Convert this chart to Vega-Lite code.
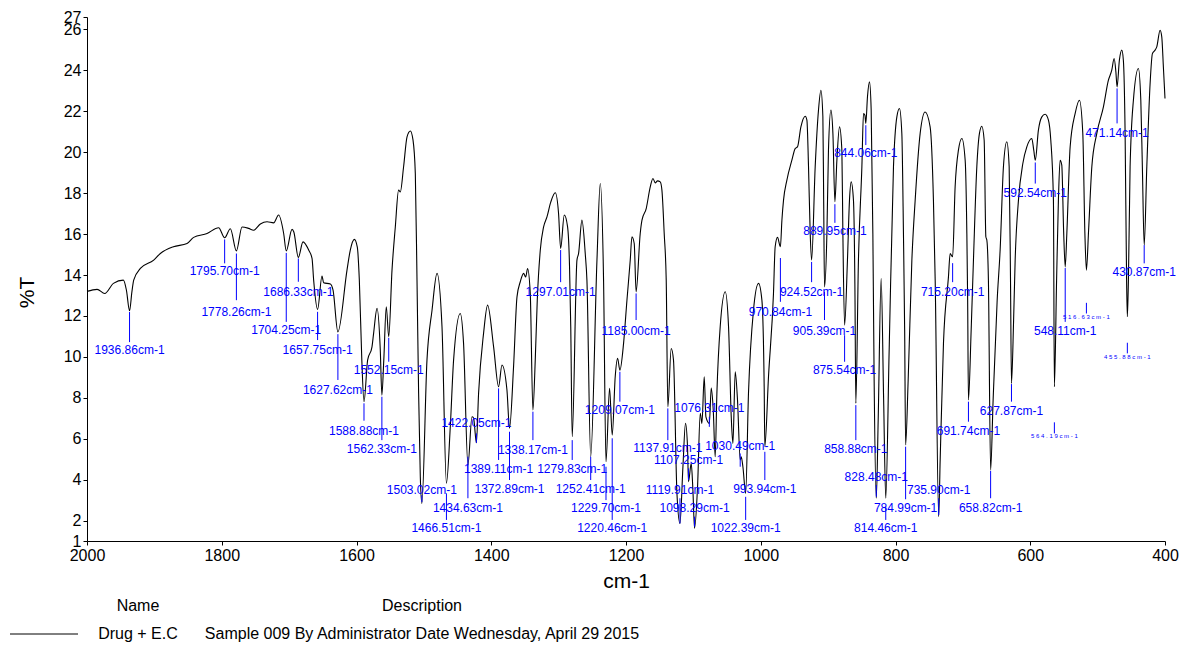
{
  "$schema": "https://vega.github.io/schema/vega-lite/v6.json",
  "width": 1078,
  "height": 524,
  "autosize": {"type": "none"},
  "padding": {"left": 87, "top": 17, "right": 17, "bottom": 104},
  "background": "white",
  "config": {
    "view": {"stroke": null},
    "font": "Liberation Sans",
    "axis": {
      "grid": false,
      "domainColor": "black",
      "tickColor": "black",
      "labelColor": "black",
      "titleColor": "black",
      "labelFont": "Liberation Sans",
      "titleFont": "Liberation Sans",
      "labelFontSize": 16,
      "titleFontSize": 21,
      "titleFontWeight": "normal",
      "tickSize": 4,
      "labelOverlap": false,
      "labelFlush": false
    }
  },
  "datasets": {
    "spectrum": [
      {"wn": 2000, "T": 13.2}, {"wn": 1985.0, "T": 13.3}, {"wn": 1973.7, "T": 13.1}, {"wn": 1960.8, "T": 13.59},
      {"wn": 1946.0, "T": 13.75}, {"wn": 1941.5, "T": 13.26}, {"wn": 1936.86, "T": 12.25}, {"wn": 1933.4, "T": 13.16},
      {"wn": 1930.7, "T": 13.75}, {"wn": 1920.8, "T": 14.32}, {"wn": 1901.0, "T": 14.73}, {"wn": 1891.1, "T": 15.05},
      {"wn": 1871.8, "T": 15.38}, {"wn": 1851.5, "T": 15.54}, {"wn": 1841.7, "T": 15.84}, {"wn": 1821.8, "T": 16.03},
      {"wn": 1804.6, "T": 16.31}, {"wn": 1795.7, "T": 15.82}, {"wn": 1787.2, "T": 16.26}, {"wn": 1778.26, "T": 15.18},
      {"wn": 1769.9, "T": 16.35}, {"wn": 1760.1, "T": 16.28}, {"wn": 1752.7, "T": 16.19}, {"wn": 1742.7, "T": 16.49},
      {"wn": 1732.8, "T": 16.6}, {"wn": 1723.0, "T": 16.55}, {"wn": 1715.6, "T": 16.93}, {"wn": 1708.1, "T": 16.03},
      {"wn": 1704.25, "T": 15.18}, {"wn": 1695.7, "T": 16.23}, {"wn": 1693.0, "T": 16.1}, {"wn": 1686.33, "T": 14.86},
      {"wn": 1679.4, "T": 15.62}, {"wn": 1671.0, "T": 15.22}, {"wn": 1666.0, "T": 14.81}, {"wn": 1663.6, "T": 13.75},
      {"wn": 1657.75, "T": 12.32}, {"wn": 1651.2, "T": 13.95}, {"wn": 1648.8, "T": 13.62}, {"wn": 1638.8, "T": 13.56},
      {"wn": 1634.8, "T": 13.26}, {"wn": 1627.62, "T": 11.22}, {"wn": 1614.1, "T": 14.24}, {"wn": 1609.2, "T": 15.22},
      {"wn": 1603.2, "T": 15.74}, {"wn": 1598.8, "T": 15.36}, {"wn": 1595.8, "T": 13.75}, {"wn": 1592.1, "T": 9.84},
      {"wn": 1588.88, "T": 7.81}, {"wn": 1583.5, "T": 9.84}, {"wn": 1577.0, "T": 10.49}, {"wn": 1574.6, "T": 11.15},
      {"wn": 1569.5, "T": 12.37}, {"wn": 1564.7, "T": 10.33}, {"wn": 1562.33, "T": 8.13}, {"wn": 1559.5, "T": 9.84},
      {"wn": 1555.8, "T": 12.45}, {"wn": 1552.15, "T": 10.98}, {"wn": 1547.3, "T": 14.24}, {"wn": 1542.4, "T": 16.35},
      {"wn": 1537.5, "T": 18.15}, {"wn": 1535.0, "T": 18.06}, {"wn": 1530.1, "T": 19.29}, {"wn": 1525.0, "T": 20.75},
      {"wn": 1520.1, "T": 21.04}, {"wn": 1516.1, "T": 20.59}, {"wn": 1512.7, "T": 18.96}, {"wn": 1510.2, "T": 13.75},
      {"wn": 1507.8, "T": 8.23}, {"wn": 1505.3, "T": 4.14}, {"wn": 1503.02, "T": 2.84}, {"wn": 1495.4, "T": 9.84},
      {"wn": 1487.9, "T": 12.28}, {"wn": 1480.5, "T": 14.08}, {"wn": 1473.1, "T": 11.47}, {"wn": 1466.51, "T": 3.82},
      {"wn": 1460.8, "T": 6.58}, {"wn": 1455.9, "T": 9.84}, {"wn": 1446.0, "T": 12.12}, {"wn": 1441.1, "T": 10.66},
      {"wn": 1434.63, "T": 4.71}, {"wn": 1428.6, "T": 7.07}, {"wn": 1426.2, "T": 7.01}, {"wn": 1422.05, "T": 5.8},
      {"wn": 1418.8, "T": 8.22}, {"wn": 1411.4, "T": 11.15}, {"wn": 1405.4, "T": 12.53}, {"wn": 1396.5, "T": 10.49},
      {"wn": 1389.11, "T": 8.54}, {"wn": 1384.1, "T": 9.6}, {"wn": 1376.7, "T": 8.38}, {"wn": 1372.89, "T": 6.51},
      {"wn": 1366.9, "T": 9.51}, {"wn": 1361.8, "T": 12.93}, {"wn": 1356.9, "T": 13.67}, {"wn": 1352.0, "T": 14.08},
      {"wn": 1348.8, "T": 13.9}, {"wn": 1346.1, "T": 14.32}, {"wn": 1342.1, "T": 13.1}, {"wn": 1338.17, "T": 7.4},
      {"wn": 1334.7, "T": 9.84}, {"wn": 1331.7, "T": 12.77}, {"wn": 1327.2, "T": 15.22}, {"wn": 1322.3, "T": 16.35},
      {"wn": 1317.3, "T": 16.84}, {"wn": 1311.7, "T": 17.56}, {"wn": 1305.0, "T": 18.02}, {"wn": 1300.1, "T": 17.01},
      {"wn": 1297.01, "T": 15.3}, {"wn": 1291.6, "T": 16.93}, {"wn": 1286.7, "T": 16.35}, {"wn": 1283.8, "T": 14.4},
      {"wn": 1282.0, "T": 11.47}, {"wn": 1279.83, "T": 6.1}, {"wn": 1272.8, "T": 14.73}, {"wn": 1270.4, "T": 15.05},
      {"wn": 1265.4, "T": 16.68}, {"wn": 1260.5, "T": 15.05}, {"wn": 1258.0, "T": 13.75}, {"wn": 1252.41, "T": 5.12},
      {"wn": 1243.1, "T": 14.73}, {"wn": 1238.2, "T": 18.47}, {"wn": 1233.3, "T": 13.75}, {"wn": 1229.7, "T": 4.87},
      {"wn": 1224.4, "T": 8.46}, {"wn": 1220.46, "T": 6.18}, {"wn": 1216.0, "T": 9.03}, {"wn": 1212.5, "T": 9.93},
      {"wn": 1209.07, "T": 9.35}, {"wn": 1203.6, "T": 10.66}, {"wn": 1198.6, "T": 12.77}, {"wn": 1193.7, "T": 14.73},
      {"wn": 1191.2, "T": 15.87}, {"wn": 1187.8, "T": 15.54}, {"wn": 1185.0, "T": 13.18}, {"wn": 1178.9, "T": 16.03},
      {"wn": 1176.3, "T": 16.68}, {"wn": 1170.0, "T": 17.25}, {"wn": 1164.0, "T": 18.31}, {"wn": 1160.0, "T": 18.72},
      {"wn": 1156.6, "T": 18.5}, {"wn": 1153.2, "T": 18.6}, {"wn": 1149.2, "T": 18.55}, {"wn": 1146.7, "T": 18.15},
      {"wn": 1143.3, "T": 16.03}, {"wn": 1140.3, "T": 13.75}, {"wn": 1137.91, "T": 7.56}, {"wn": 1132.9, "T": 10.41},
      {"wn": 1129.5, "T": 9.84}, {"wn": 1124.4, "T": 3.33}, {"wn": 1119.91, "T": 1.86}, {"wn": 1115.5, "T": 4.63},
      {"wn": 1111.7, "T": 6.75}, {"wn": 1108.7, "T": 5.61}, {"wn": 1107.25, "T": 3.9}, {"wn": 1103.2, "T": 4.8},
      {"wn": 1100.7, "T": 3.49}, {"wn": 1098.29, "T": 1.62}, {"wn": 1093.8, "T": 3.65}, {"wn": 1089.8, "T": 7.24},
      {"wn": 1087.3, "T": 6.75}, {"wn": 1083.9, "T": 9.03}, {"wn": 1081.4, "T": 7.07}, {"wn": 1076.31, "T": 6.75},
      {"wn": 1073.5, "T": 8.47}, {"wn": 1070.5, "T": 7.4}, {"wn": 1067.6, "T": 5.12}, {"wn": 1065.1, "T": 8.22},
      {"wn": 1060.2, "T": 11.47}, {"wn": 1052.7, "T": 13.18}, {"wn": 1047.8, "T": 11.47}, {"wn": 1043.8, "T": 7.07},
      {"wn": 1041.3, "T": 5.77}, {"wn": 1037.9, "T": 9.27}, {"wn": 1034.5, "T": 7.89}, {"wn": 1030.49, "T": 4.96},
      {"wn": 1029.0, "T": 5.12}, {"wn": 1026.5, "T": 4.63}, {"wn": 1022.39, "T": 3.33}, {"wn": 1018.2, "T": 8.22},
      {"wn": 1010.8, "T": 12.28}, {"wn": 1003.3, "T": 13.59}, {"wn": 998.3, "T": 12.77}, {"wn": 994.9, "T": 8.54},
      {"wn": 993.94, "T": 5.61}, {"wn": 988.5, "T": 9.03}, {"wn": 981.1, "T": 13.1}, {"wn": 978.6, "T": 15.38},
      {"wn": 975.1, "T": 15.84}, {"wn": 970.84, "T": 15.38}, {"wn": 968.6, "T": 16.68}, {"wn": 966.2, "T": 17.66},
      {"wn": 961.2, "T": 18.64}, {"wn": 953.8, "T": 19.61}, {"wn": 948.9, "T": 20.18}, {"wn": 945.5, "T": 20.26},
      {"wn": 940.4, "T": 21.24}, {"wn": 934.0, "T": 21.76}, {"wn": 931.5, "T": 21.57}, {"wn": 929.1, "T": 19.29},
      {"wn": 926.6, "T": 16.03}, {"wn": 924.52, "T": 14.73}, {"wn": 919.2, "T": 19.29}, {"wn": 914.3, "T": 22.06},
      {"wn": 910.7, "T": 23.03}, {"wn": 907.8, "T": 21.73}, {"wn": 906.6, "T": 17.66}, {"wn": 905.39, "T": 13.42},
      {"wn": 901.8, "T": 16.03}, {"wn": 899.5, "T": 20.1}, {"wn": 895.9, "T": 22.06}, {"wn": 892.9, "T": 20.92},
      {"wn": 889.95, "T": 17.58}, {"wn": 887.0, "T": 19.61}, {"wn": 883.1, "T": 21.24}, {"wn": 879.6, "T": 20.1},
      {"wn": 878.1, "T": 16.03}, {"wn": 875.54, "T": 11.55}, {"wn": 871.3, "T": 14.73}, {"wn": 868.3, "T": 17.66},
      {"wn": 865.8, "T": 18.55}, {"wn": 862.4, "T": 17.66}, {"wn": 860.2, "T": 13.26}, {"wn": 858.88, "T": 7.73},
      {"wn": 855.0, "T": 14.73}, {"wn": 849.9, "T": 19.29}, {"wn": 847.5, "T": 21.89}, {"wn": 845.4, "T": 21.81},
      {"wn": 844.06, "T": 21.41}, {"wn": 841.6, "T": 22.71}, {"wn": 838.6, "T": 23.44}, {"wn": 836.1, "T": 22.06},
      {"wn": 833.6, "T": 16.03}, {"wn": 831.7, "T": 8.87}, {"wn": 828.48, "T": 3.09}, {"wn": 825.7, "T": 6.91},
      {"wn": 821.3, "T": 13.83}, {"wn": 817.6, "T": 7.89}, {"wn": 814.46, "T": 3.09}, {"wn": 809.4, "T": 10.33},
      {"wn": 803.0, "T": 19.29}, {"wn": 798.0, "T": 21.73}, {"wn": 794.1, "T": 22.14}, {"wn": 790.6, "T": 20.92},
      {"wn": 788.2, "T": 16.03}, {"wn": 786.4, "T": 11.31}, {"wn": 784.99, "T": 5.69}, {"wn": 781.2, "T": 8.87},
      {"wn": 775.7, "T": 14.73}, {"wn": 770.8, "T": 17.66}, {"wn": 763.4, "T": 20.92}, {"wn": 756.0, "T": 21.97},
      {"wn": 748.6, "T": 21.24}, {"wn": 743.7, "T": 17.66}, {"wn": 741.1, "T": 13.75}, {"wn": 735.9, "T": 2.19},
      {"wn": 733.7, "T": 4.96}, {"wn": 728.8, "T": 10.66}, {"wn": 721.4, "T": 13.91}, {"wn": 718.9, "T": 15.05},
      {"wn": 715.2, "T": 14.89}, {"wn": 711.5, "T": 18.31}, {"wn": 706.6, "T": 20.1}, {"wn": 701.5, "T": 20.67},
      {"wn": 696.6, "T": 19.61}, {"wn": 694.1, "T": 16.03}, {"wn": 692.9, "T": 12.77}, {"wn": 691.74, "T": 7.89},
      {"wn": 687.7, "T": 11.31}, {"wn": 684.3, "T": 14.73}, {"wn": 679.3, "T": 19.29}, {"wn": 675.4, "T": 20.92},
      {"wn": 671.9, "T": 21.27}, {"wn": 668.4, "T": 20.59}, {"wn": 665.9, "T": 15.87}, {"wn": 664.4, "T": 15.7},
      {"wn": 662.1, "T": 13.75}, {"wn": 658.82, "T": 4.47}, {"wn": 655.1, "T": 7.89}, {"wn": 649.1, "T": 12.77},
      {"wn": 644.7, "T": 15.22}, {"wn": 639.8, "T": 19.29}, {"wn": 634.8, "T": 20.51}, {"wn": 631.3, "T": 19.29},
      {"wn": 629.3, "T": 13.75}, {"wn": 627.87, "T": 8.7}, {"wn": 624.7, "T": 11.8}, {"wn": 622.4, "T": 14.73},
      {"wn": 617.5, "T": 17.66}, {"wn": 611.0, "T": 19.45}, {"wn": 605.1, "T": 20.26}, {"wn": 597.7, "T": 20.67},
      {"wn": 594.8, "T": 20.1}, {"wn": 592.54, "T": 19.61}, {"wn": 587.9, "T": 21.08}, {"wn": 582.8, "T": 21.73},
      {"wn": 577.9, "T": 21.86}, {"wn": 573.0, "T": 21.57}, {"wn": 569.5, "T": 20.59}, {"wn": 565.6, "T": 17.66},
      {"wn": 564.19, "T": 8.54}, {"wn": 560.9, "T": 13.75}, {"wn": 558.2, "T": 17.66}, {"wn": 555.7, "T": 19.61},
      {"wn": 553.2, "T": 19.37}, {"wn": 550.5, "T": 16.19}, {"wn": 548.11, "T": 14.4}, {"wn": 545.7, "T": 16.03},
      {"wn": 540.8, "T": 20.26}, {"wn": 533.4, "T": 21.89}, {"wn": 527.0, "T": 22.54}, {"wn": 522.0, "T": 20.92},
      {"wn": 518.9, "T": 16.03}, {"wn": 516.63, "T": 14.24}, {"wn": 513.4, "T": 16.19}, {"wn": 508.6, "T": 19.29},
      {"wn": 501.2, "T": 20.92}, {"wn": 491.4, "T": 22.22}, {"wn": 484.0, "T": 23.52}, {"wn": 479.0, "T": 24.01},
      {"wn": 475.5, "T": 24.58}, {"wn": 472.9, "T": 23.93}, {"wn": 471.14, "T": 23.19}, {"wn": 467.7, "T": 24.5},
      {"wn": 464.1, "T": 24.99}, {"wn": 461.8, "T": 24.5}, {"wn": 459.2, "T": 20.92}, {"wn": 457.0, "T": 13.75},
      {"wn": 455.88, "T": 11.96}, {"wn": 454.3, "T": 13.75}, {"wn": 451.8, "T": 19.29}, {"wn": 446.9, "T": 22.54},
      {"wn": 439.5, "T": 24.09}, {"wn": 435.9, "T": 22.54}, {"wn": 433.6, "T": 19.29}, {"wn": 430.87, "T": 15.46},
      {"wn": 427.0, "T": 19.29}, {"wn": 422.1, "T": 23.36}, {"wn": 418.7, "T": 24.82}, {"wn": 414.7, "T": 24.99},
      {"wn": 412.2, "T": 25.15}, {"wn": 407.3, "T": 25.96}, {"wn": 404.8, "T": 25.64}, {"wn": 402.4, "T": 24.17},
      {"wn": 400, "T": 22.63}
    ],
    "peaks": [
      {"wn": 1936.86, "t1": 12.19, "t2": 10.72, "ly": 10.33, "label": "1936.86cm-1"},
      {"wn": 1795.70, "t1": 15.74, "t2": 14.57, "ly": 14.2, "label": "1795.70cm-1"},
      {"wn": 1778.26, "t1": 15.05, "t2": 12.77, "ly": 12.2, "label": "1778.26cm-1"},
      {"wn": 1704.25, "t1": 15.08, "t2": 11.71, "ly": 11.31, "label": "1704.25cm-1"},
      {"wn": 1686.33, "t1": 14.81, "t2": 13.67, "ly": 13.18, "label": "1686.33cm-1"},
      {"wn": 1657.75, "t1": 12.2, "t2": 10.82, "ly": 10.33, "label": "1657.75cm-1"},
      {"wn": 1627.62, "t1": 11.11, "t2": 8.87, "ly": 8.38, "label": "1627.62cm-1"},
      {"wn": 1588.88, "t1": 7.73, "t2": 6.88, "ly": 6.39, "label": "1588.88cm-1"},
      {"wn": 1562.33, "t1": 8.05, "t2": 5.93, "ly": 5.48, "label": "1562.33cm-1"},
      {"wn": 1552.15, "t1": 10.93, "t2": 9.76, "ly": 9.35, "label": "1552.15cm-1"},
      {"wn": 1503.02, "t1": 3.24, "t2": 2.9, "ly": 3.49, "label": "1503.02cm-1"},
      {"wn": 1466.51, "t1": 3.33, "t2": 2.03, "ly": 1.62, "label": "1466.51cm-1"},
      {"wn": 1434.63, "t1": 5.12, "t2": 3.09, "ly": 2.6, "label": "1434.63cm-1"},
      {"wn": 1422.05, "t1": 6.26, "t2": 5.8, "ly": 6.75, "label": "1422.05cm-1"},
      {"wn": 1389.11, "t1": 8.46, "t2": 4.96, "ly": 4.5, "label": "1389.11cm-1"},
      {"wn": 1372.89, "t1": 6.34, "t2": 3.98, "ly": 3.53, "label": "1372.89cm-1"},
      {"wn": 1338.17, "t1": 7.32, "t2": 5.93, "ly": 5.45, "label": "1338.17cm-1"},
      {"wn": 1297.01, "t1": 15.22, "t2": 13.65, "ly": 13.18, "label": "1297.01cm-1"},
      {"wn": 1279.83, "t1": 5.93, "t2": 4.96, "ly": 4.5, "label": "1279.83cm-1"},
      {"wn": 1252.41, "t1": 5.12, "t2": 3.98, "ly": 3.53, "label": "1252.41cm-1"},
      {"wn": 1229.70, "t1": 4.63, "t2": 3.0, "ly": 2.6, "label": "1229.70cm-1"},
      {"wn": 1220.46, "t1": 6.02, "t2": 2.03, "ly": 1.62, "label": "1220.46cm-1"},
      {"wn": 1209.07, "t1": 9.27, "t2": 7.81, "ly": 7.4, "label": "1209.07cm-1"},
      {"wn": 1185.00, "t1": 13.1, "t2": 11.8, "ly": 11.27, "label": "1185.00cm-1"},
      {"wn": 1137.91, "t1": 7.48, "t2": 5.93, "ly": 5.53, "label": "1137.91cm-1"},
      {"wn": 1119.91, "t1": 3.09, "t2": 1.86, "ly": 3.49, "label": "1119.91cm-1"},
      {"wn": 1107.25, "t1": 4.55, "t2": 3.98, "ly": 4.96, "label": "1107.25cm-1"},
      {"wn": 1098.29, "t1": 2.19, "t2": 1.7, "ly": 2.6, "label": "1098.29cm-1"},
      {"wn": 1076.31, "t1": 7.07, "t2": 6.58, "ly": 7.48, "label": "1076.31cm-1"},
      {"wn": 1030.49, "t1": 5.28, "t2": 4.63, "ly": 5.66, "label": "1030.49cm-1"},
      {"wn": 1022.39, "t1": 3.16, "t2": 2.03, "ly": 1.62, "label": "1022.39cm-1"},
      {"wn": 993.94, "t1": 5.36, "t2": 3.98, "ly": 3.53, "label": "993.94cm-1"},
      {"wn": 970.84, "t1": 14.83, "t2": 12.69, "ly": 12.2, "label": "970.84cm-1"},
      {"wn": 924.52, "t1": 14.64, "t2": 13.65, "ly": 13.18, "label": "924.52cm-1"},
      {"wn": 905.39, "t1": 13.18, "t2": 11.8, "ly": 11.27, "label": "905.39cm-1"},
      {"wn": 889.95, "t1": 17.46, "t2": 16.55, "ly": 16.16, "label": "889.95cm-1"},
      {"wn": 875.54, "t1": 11.06, "t2": 9.76, "ly": 9.35, "label": "875.54cm-1"},
      {"wn": 858.88, "t1": 7.64, "t2": 5.93, "ly": 5.48, "label": "858.88cm-1"},
      {"wn": 844.06, "t1": 21.32, "t2": 20.35, "ly": 19.97, "label": "844.06cm-1"},
      {"wn": 828.48, "t1": 3.74, "t2": 3.16, "ly": 4.14, "label": "828.48cm-1"},
      {"wn": 814.46, "t1": 2.68, "t2": 2.03, "ly": 1.62, "label": "814.46cm-1"},
      {"wn": 784.99, "t1": 5.61, "t2": 3.04, "ly": 2.6, "label": "784.99cm-1"},
      {"wn": 735.90, "t1": 3.09, "t2": 2.27, "ly": 3.49, "label": "735.90cm-1"},
      {"wn": 715.20, "t1": 14.58, "t2": 13.65, "ly": 13.18, "label": "715.20cm-1"},
      {"wn": 691.74, "t1": 7.81, "t2": 6.83, "ly": 6.39, "label": "691.74cm-1"},
      {"wn": 658.82, "t1": 4.43, "t2": 3.09, "ly": 2.6, "label": "658.82cm-1"},
      {"wn": 627.87, "t1": 8.67, "t2": 7.81, "ly": 7.37, "label": "627.87cm-1"},
      {"wn": 592.54, "t1": 19.5, "t2": 18.47, "ly": 18.03, "label": "592.54cm-1"},
      {"wn": 548.11, "t1": 14.34, "t2": 11.71, "ly": 11.27, "label": "548.11cm-1"},
      {"wn": 471.14, "t1": 23.12, "t2": 21.41, "ly": 20.95, "label": "471.14cm-1"},
      {"wn": 430.87, "t1": 15.46, "t2": 14.57, "ly": 14.16, "label": "430.87cm-1"}
    ],
    "minorPeaks": [
      {"wn": 564.19, "t1": 6.8, "t2": 6.26, "ly": 6.13, "label": "5 6 4 . 1 9 c m - 1"},
      {"wn": 516.63, "t1": 12.64, "t2": 12.12, "ly": 11.96, "label": "5 1 6 . 6 3 c m - 1"},
      {"wn": 455.88, "t1": 10.69, "t2": 10.17, "ly": 9.97, "label": "4 5 5 . 8 8 c m - 1"}
    ],
    "footer": [
      {"column": "Name", "part": "head", "text": "Name"},
      {"column": "Description", "part": "head", "text": "Description"},
      {"column": "Name", "part": "body", "text": "Drug + E.C"},
      {"column": "Description", "part": "body", "text": "Sample 009 By Administrator Date Wednesday, April 29 2015"}
    ]
  },
  "layer": [
    {
      "layer": [
        {
          "data": {"name": "spectrum"},
          "mark": {"type": "line", "color": "black", "strokeWidth": 1.1, "interpolate": "monotone"},
          "encoding": {
            "x": {
              "field": "wn", "type": "quantitative", "title": "cm-1",
              "scale": {"domain": [400, 2000], "reverse": true, "nice": false, "zero": false},
              "axis": {"values": [2000, 1800, 1600, 1400, 1200, 1000, 800, 600, 400], "format": "d",
                       "labelPadding": 2, "titlePadding": 7, "labelOverlap": false, "labelFlush": false}
            },
            "y": {
              "field": "T", "type": "quantitative", "title": "%T",
              "scale": {"domain": [1, 26.61], "nice": false, "zero": false},
              "axis": {
                "values": [1, 2, 4, 6, 8, 10, 12, 14, 16, 18, 20, 22, 24, 26, 26.61],
                "labelExpr": "datum.value > 26.5 ? '27' : datum.label",
                "labelOverlap": false, "labelFlush": false, "labelSeparation": 0,
                "labelPadding": 2, "titlePadding": 26, "titleY": 275
              }
            }
          }
        },
        {
          "data": {"name": "peaks"},
          "mark": {"type": "rule", "color": "#0000ff", "strokeWidth": 1},
          "encoding": {
            "x": {"field": "wn", "type": "quantitative", "title": "cm-1",
                  "axis": {"values": [2000, 1800, 1600, 1400, 1200, 1000, 800, 600, 400], "format": "d",
                           "labelPadding": 2, "titlePadding": 7, "labelOverlap": false, "labelFlush": false}},
            "y": {"field": "t1", "type": "quantitative", "title": "%T",
                  "axis": {
                    "values": [1, 2, 4, 6, 8, 10, 12, 14, 16, 18, 20, 22, 24, 26, 26.61],
                    "labelExpr": "datum.value > 26.5 ? '27' : datum.label",
                    "labelOverlap": false, "labelFlush": false, "labelSeparation": 0,
                    "labelPadding": 2, "titlePadding": 26, "titleY": 275
                  }},
            "y2": {"field": "t2"}
          }
        },
        {
          "data": {"name": "peaks"},
          "mark": {"type": "text", "color": "#0000ff", "fontSize": 12, "font": "Liberation Sans", "align": "center", "baseline": "middle"},
          "encoding": {
            "x": {"field": "wn", "type": "quantitative", "title": "cm-1",
                  "axis": {"values": [2000, 1800, 1600, 1400, 1200, 1000, 800, 600, 400], "format": "d",
                           "labelPadding": 2, "titlePadding": 7, "labelOverlap": false, "labelFlush": false}},
            "y": {"field": "ly", "type": "quantitative", "title": "%T",
                  "axis": {
                    "values": [1, 2, 4, 6, 8, 10, 12, 14, 16, 18, 20, 22, 24, 26, 26.61],
                    "labelExpr": "datum.value > 26.5 ? '27' : datum.label",
                    "labelOverlap": false, "labelFlush": false, "labelSeparation": 0,
                    "labelPadding": 2, "titlePadding": 26, "titleY": 275
                  }},
            "text": {"field": "label"}
          }
        },
        {
          "data": {"name": "minorPeaks"},
          "mark": {"type": "rule", "color": "#0000ff", "strokeWidth": 1},
          "encoding": {
            "x": {"field": "wn", "type": "quantitative", "title": "cm-1",
                  "axis": {"values": [2000, 1800, 1600, 1400, 1200, 1000, 800, 600, 400], "format": "d",
                           "labelPadding": 2, "titlePadding": 7, "labelOverlap": false, "labelFlush": false}},
            "y": {"field": "t1", "type": "quantitative", "title": "%T",
                  "axis": {
                    "values": [1, 2, 4, 6, 8, 10, 12, 14, 16, 18, 20, 22, 24, 26, 26.61],
                    "labelExpr": "datum.value > 26.5 ? '27' : datum.label",
                    "labelOverlap": false, "labelFlush": false, "labelSeparation": 0,
                    "labelPadding": 2, "titlePadding": 26, "titleY": 275
                  }},
            "y2": {"field": "t2"}
          }
        },
        {
          "data": {"name": "minorPeaks"},
          "mark": {"type": "text", "color": "#0000ff", "fontSize": 6, "font": "Liberation Sans", "align": "center", "baseline": "middle"},
          "encoding": {
            "x": {"field": "wn", "type": "quantitative", "title": "cm-1",
                  "axis": {"values": [2000, 1800, 1600, 1400, 1200, 1000, 800, 600, 400], "format": "d",
                           "labelPadding": 2, "titlePadding": 7, "labelOverlap": false, "labelFlush": false}},
            "y": {"field": "ly", "type": "quantitative", "title": "%T",
                  "axis": {
                    "values": [1, 2, 4, 6, 8, 10, 12, 14, 16, 18, 20, 22, 24, 26, 26.61],
                    "labelExpr": "datum.value > 26.5 ? '27' : datum.label",
                    "labelOverlap": false, "labelFlush": false, "labelSeparation": 0,
                    "labelPadding": 2, "titlePadding": 26, "titleY": 275
                  }},
            "text": {"field": "label"}
          }
        }
      ]
    },
    {
      "data": {"name": "footer"},
      "encoding": {
        "x": {"field": "column", "type": "nominal", "axis": null,
              "scale": {"domain": ["Name", "Description"], "range": [51, 335], "padding": 0}},
        "y": {"field": "part", "type": "nominal", "axis": null,
              "scale": {"domain": ["head", "body"], "range": [589, 617], "padding": 0}}
      },
      "layer": [
        {
          "mark": {"type": "text", "fontSize": 16, "color": "black", "font": "Liberation Sans", "align": "center", "baseline": "middle"},
          "encoding": {"text": {"field": "text"}}
        },
        {
          "transform": [{"filter": "datum.part == 'body' && datum.column == 'Name'"}],
          "mark": {"type": "point", "shape": "stroke", "size": 4624, "color": "black", "filled": false, "strokeWidth": 1, "opacity": 1, "xOffset": -94}
        }
      ]
    }
  ],
  "resolve": {"scale": {"x": "independent", "y": "independent"}}
}
